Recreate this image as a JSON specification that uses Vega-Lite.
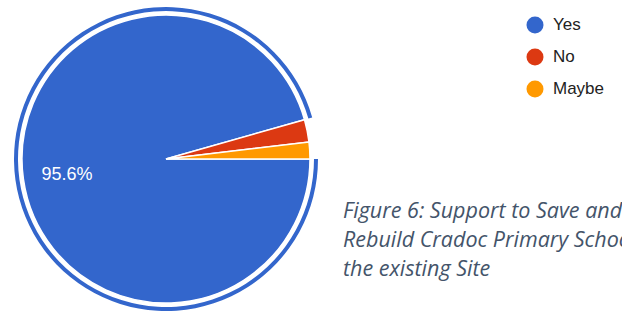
{
  "$schema": "https://vega.github.io/schema/vega-lite/v6.json",
  "width": 332,
  "height": 318,
  "autosize": "none",
  "padding": {"left": 0, "top": 0, "right": 290, "bottom": 0},
  "background": "white",
  "config": {"view": {"stroke": null}},
  "title": {
    "text": ["Figure 6: Support to Save and", "Rebuild Cradoc Primary School on", "the existing Site"],
    "orient": "top",
    "anchor": "start",
    "frame": "group",
    "baseline": "top",
    "dx": 343,
    "dy": 284,
    "font": "Open Sans",
    "fontStyle": "italic",
    "fontWeight": "normal",
    "fontSize": 21.5,
    "lineHeight": 29,
    "color": "#44546A"
  },
  "data": {
    "values": [
      {"answer": "Yes", "count": 152, "order": 1, "pct": "95.6%"},
      {"answer": "No", "count": 4, "order": 2, "pct": "2.5%"},
      {"answer": "Maybe", "count": 3, "order": 3, "pct": "1.9%"}
    ]
  },
  "encoding": {
    "theta": {"field": "count", "type": "quantitative", "stack": true, "scale": {"range": [1.5708, 7.854]}},
    "order": {"field": "order", "type": "quantitative"},
    "color": {
      "field": "answer",
      "type": "nominal",
      "sort": ["Yes", "No", "Maybe"],
      "scale": {"domain": ["Yes", "No", "Maybe"], "range": ["#3366CC", "#DC3912", "#FF9900"]},
      "legend": {
        "title": null,
        "orient": "none",
        "legendX": 526.5,
        "legendY": 16.5,
        "padding": 0,
        "symbolType": "circle",
        "symbolSize": 289,
        "symbolStrokeWidth": 0,
        "labelFont": "Liberation Sans",
        "labelFontSize": 17,
        "labelColor": "#222222",
        "labelOffset": 9.5,
        "rowPadding": 14
      }
    }
  },
  "layer": [
    {
      "mark": {"type": "arc", "outerRadius": 144, "stroke": "white", "strokeWidth": 1.5}
    },
    {
      "mark": {"type": "arc", "innerRadius": 148, "outerRadius": 152},
      "encoding": {
        "opacity": {"condition": {"test": "datum.answer == 'Yes'", "value": 1}, "value": 0}
      }
    },
    {
      "mark": {"type": "text", "radius": 100, "font": "Liberation Sans", "fontSize": 18, "align": "center", "baseline": "middle", "dy": 2},
      "encoding": {
        "text": {"condition": {"test": "datum.answer == 'Yes'", "field": "pct"}, "value": ""},
        "color": {"value": "white"}
      }
    }
  ]
}
